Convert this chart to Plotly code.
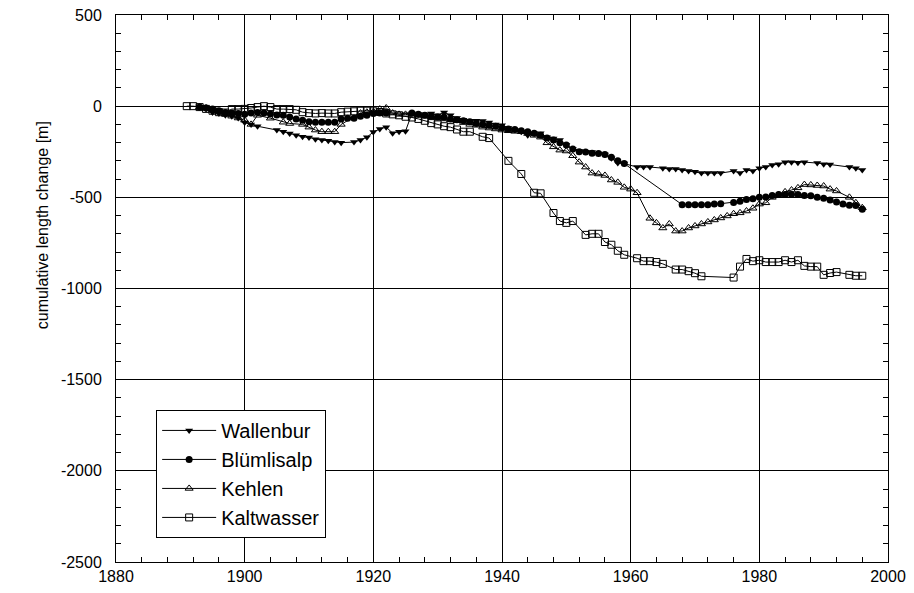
import plotly.graph_objects as go

# Cumulative glacier length change (m) by year
wallenbur_years = [1893, 1894, 1895, 1896, 1897, 1898, 1899, 1900, 1901, 1902,
                   1905, 1906, 1907, 1908, 1909, 1910, 1911, 1912, 1913, 1914,
                   1915, 1917, 1918, 1919, 1920, 1921, 1922, 1923, 1924, 1925,
                   1926, 1927, 1928, 1929, 1930, 1931, 1932, 1933, 1934, 1935,
                   1936, 1937, 1938, 1939, 1940, 1941, 1942, 1943, 1944, 1945,
                   1946, 1947, 1948, 1949, 1950, 1951, 1952, 1953, 1954, 1955,
                   1956, 1957, 1958, 1959, 1961, 1962, 1963, 1965, 1966, 1967,
                   1968, 1969, 1970, 1971, 1972, 1973, 1974, 1976, 1977, 1978,
                   1979, 1980, 1981, 1982, 1983, 1984, 1985, 1986, 1987, 1989,
                   1990, 1991, 1994, 1995, 1996]
wallenbur_vals = [-5, -15, -35, -40, -50, -55, -65, -90, -100, -110,
                  -131, -140, -150, -159, -168, -172, -181, -186, -190, -197,
                  -200, -197, -186, -170, -142, -125, -115, -148, -140, -137,
                  -40, -45, -45, -40, -50, -35, -50, -65, -75, -80,
                  -80, -82, -90, -100, -104, -120, -130, -140, -159, -150,
                  -148, -170, -178, -186, -213, -235, -245, -250, -252, -260,
                  -265, -285, -312, -315, -334, -334, -334, -340, -345, -345,
                  -350, -355, -360, -367, -367, -367, -367, -356, -367, -350,
                  -356, -340, -334, -323, -318, -307, -307, -310, -307, -312,
                  -318, -320, -334, -340, -350]

bluemlisalp_years = [1893, 1894, 1895, 1896, 1897, 1898, 1899, 1900, 1901, 1902,
                     1903, 1904, 1905, 1906, 1907, 1908, 1909, 1910, 1911, 1912,
                     1913, 1914, 1915, 1916, 1917, 1918, 1919, 1920, 1921, 1922,
                     1926, 1927, 1928, 1929, 1930, 1931, 1932, 1933, 1934, 1935,
                     1936, 1937, 1938, 1939, 1940, 1941, 1942, 1943, 1944, 1945,
                     1946, 1947, 1948, 1949, 1950, 1951, 1952, 1953, 1954, 1955,
                     1956, 1957, 1958, 1959, 1968, 1969, 1970, 1971, 1972, 1973,
                     1974, 1976, 1977, 1978, 1979, 1980, 1981, 1982, 1983, 1984,
                     1985, 1986, 1987, 1988, 1989, 1990, 1991, 1992, 1993, 1994,
                     1995, 1996]
bluemlisalp_vals = [-5, -10, -16, -25, -35, -38, -40, -45, -38, -35,
                    -38, -43, -48, -50, -60, -70, -77, -85, -88, -88,
                    -88, -88, -70, -66, -66, -55, -50, -40, -38, -38,
                    -38, -45, -50, -55, -60, -60, -70, -75, -80, -85,
                    -95, -100, -105, -110, -118, -125, -128, -135, -140, -148,
                    -160, -175, -186, -200, -213, -235, -250, -252, -258, -260,
                    -265, -280, -300, -315, -540, -540, -540, -540, -540, -537,
                    -535, -528, -522, -512, -508, -500, -498, -490, -485, -485,
                    -485, -485, -490, -492, -500, -505, -515, -525, -537, -543,
                    -545, -565]

kehlen_years = [1893, 1894, 1895, 1896, 1897, 1898, 1899, 1900, 1901, 1902,
                1904, 1906, 1907, 1909, 1910, 1911, 1912, 1913, 1914, 1915,
                1918, 1919, 1920, 1921, 1922, 1923, 1924, 1925, 1926, 1927,
                1928, 1929, 1930, 1931, 1932, 1933, 1934, 1935, 1936, 1937,
                1938, 1939, 1940, 1941, 1942, 1943, 1944, 1945, 1946, 1947,
                1948, 1949, 1950, 1951, 1952, 1953, 1954, 1955, 1956, 1957,
                1958, 1959, 1960, 1961, 1963, 1964, 1965, 1966, 1967, 1968,
                1969, 1970, 1971, 1972, 1973, 1974, 1975, 1976, 1977, 1978,
                1979, 1980, 1981, 1982, 1983, 1984, 1985, 1986, 1987, 1988,
                1989, 1990, 1991, 1992, 1994, 1995, 1996]
kehlen_vals = [-5, -10, -20, -33, -45, -55, -65, -77, -100, -50,
               -66, -88, -95, -100, -115, -131, -140, -140, -140, -100,
               -38, -33, -30, -16, -10, -38, -45, -45, -50, -50,
               -55, -60, -65, -70, -75, -80, -90, -100, -105, -115,
               -120, -125, -131, -135, -138, -140, -150, -160, -170, -201,
               -223, -241, -246, -272, -307, -334, -367, -372, -380, -405,
               -418, -445, -455, -475, -615, -640, -668, -646, -685, -685,
               -668, -657, -646, -635, -624, -613, -602, -590, -585, -575,
               -560, -537, -530, -500, -485, -470, -460, -448, -430, -432,
               -435, -438, -455, -465, -500, -530, -557]

kaltwasser_years = [1891, 1892, 1893, 1894, 1895, 1896, 1897, 1898, 1899, 1900,
                    1901, 1902, 1903, 1904, 1905, 1906, 1907, 1908, 1909, 1910,
                    1911, 1912, 1913, 1914, 1915, 1916, 1917, 1918, 1919, 1920,
                    1921, 1922, 1923, 1924, 1925, 1926, 1927, 1928, 1929, 1930,
                    1931, 1932, 1933, 1934, 1935, 1937, 1938, 1941, 1943, 1945,
                    1946, 1948, 1949, 1950, 1951, 1953, 1954, 1955, 1956, 1957,
                    1958, 1959, 1961, 1962, 1963, 1964, 1965, 1967, 1968, 1969,
                    1970, 1971, 1976, 1977, 1978, 1979, 1980, 1981, 1982, 1983,
                    1984, 1985, 1986, 1987, 1988, 1989, 1990, 1991, 1992, 1994,
                    1995, 1996]
kaltwasser_vals = [0, 0, -5, -15, -25, -33, -35, -16, -16, -15,
                   -10, -5, 0, -5, -16, -16, -16, -20, -33, -38,
                   -40, -38, -40, -40, -33, -30, -28, -25, -25, -28,
                   -32, -40, -45, -50, -58, -62, -70, -80, -93, -100,
                   -110, -115, -128, -140, -140, -168, -175, -300, -372, -475,
                   -478, -586, -630, -640, -630, -706, -700, -700, -745, -760,
                   -793, -815, -834, -850, -850, -855, -865, -896, -896, -905,
                   -916, -933, -940, -880, -838, -850, -845, -855, -855, -855,
                   -845, -855, -845, -876, -880, -880, -925, -915, -910, -925,
                   -930, -930]

# Axis ticks (labels use a plain hyphen for negatives)
x_tick_vals = [1880, 1900, 1920, 1940, 1960, 1980, 2000]
y_tick_vals = [500, 0, -500, -1000, -1500, -2000, -2500]
y_tick_text = ["500", "0", "-500", "-1000", "-1500", "-2000", "-2500"]

FONT = "Liberation Sans"

series = [
    ("Wallenbur", wallenbur_years, wallenbur_vals,
     dict(symbol="triangle-down", size=7, color="black")),
    ("Blümlisalp", bluemlisalp_years, bluemlisalp_vals,
     dict(symbol="circle", size=7, color="black")),
    ("Kehlen", kehlen_years, kehlen_vals,
     dict(symbol="triangle-up-open", size=7, color="black", line=dict(width=1, color="black"))),
    ("Kaltwasser", kaltwasser_years, kaltwasser_vals,
     dict(symbol="square-open", size=7, color="black", line=dict(width=1, color="black"))),
]

fig = go.Figure()
for name, xs, ys, mk in series:
    fig.add_trace(go.Scatter(
        x=xs, y=ys, name=name, mode="lines+markers",
        line=dict(color="black", width=1),
        marker=mk,
    ))

axis_common = dict(
    showline=True, linecolor="black", linewidth=1, mirror="ticks",
    showgrid=True, gridcolor="black", gridwidth=1,
    ticks="inside", ticklen=8, tickcolor="black",
    tickfont=dict(family=FONT, size=16, color="black"),
    zeroline=False, automargin=False,
)

fig.update_xaxes(
    range=[1880, 2000], tickmode="array", tickvals=x_tick_vals,
    minor=dict(dtick=4, tick0=1880, ticks="inside", ticklen=5, tickcolor="black", showgrid=False),
    **axis_common,
)
fig.update_yaxes(
    range=[-2500, 500], tickmode="array", tickvals=y_tick_vals, ticktext=y_tick_text,
    minor=dict(dtick=100, tick0=0, ticks="inside", ticklen=5, tickcolor="black", showgrid=False),
    ticklabelstandoff=10,
    **axis_common,
)

# y-axis caption, placed left of the tick labels
fig.add_annotation(
    text="cumulative length change [m]", textangle=-90,
    xref="paper", yref="paper", x=-0.095, y=0.615,
    xanchor="center", yanchor="middle", showarrow=False,
    font=dict(family=FONT, size=16, color="black"),
)

fig.update_layout(
    width=914, height=593,
    margin=dict(l=116, r=26, t=15, b=31),
    paper_bgcolor="white", plot_bgcolor="white",
    font=dict(family=FONT, color="black"),
    showlegend=True,
    legend=dict(
        x=0.052, y=0.278, xanchor="left", yanchor="top",
        bgcolor="white", bordercolor="black", borderwidth=1,
        font=dict(family=FONT, size=20, color="black"),
        itemsizing="trace", tracegroupgap=0, itemwidth=54,
    ),
)

fig.write_html("out.html")
